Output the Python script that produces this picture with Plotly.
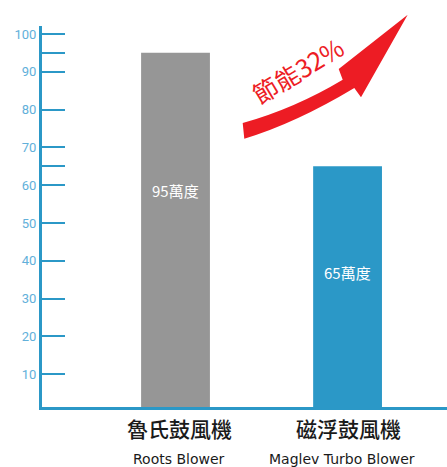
import plotly.graph_objects as go

categories_zh = ["魯氏鼓風機", "磁浮鼓風機"]
categories_en = ["Roots Blower", "Maglev Turbo Blower"]
values = [95, 65]
value_labels = ["95萬度", "65萬度"]
bar_colors = ["#969696", "#2b98c7"]
tick_vals = [10, 20, 30, 40, 50, 60, 65, 70, 80, 90, 95, 100]
tick_text = ["10", "20", "30", "40", "50", "60", "", "70", "80", "90", "", "100"]
saving_label = "節能32%"

W, H = 447, 467
ML, MR, MT, MB = 42, 0, 26, 60
PW, PH = W - ML - MR, H - MT - MB

def px2paper(px, py):
    return (px - ML) / PW, (H - MB - py) / PH

AXIS = "#2b98c7"
TICKFONT = "#62b0da"
RED = "#ed1c24"

fig = go.Figure()
fig.add_trace(go.Bar(
    x=[0, 1], y=values, marker=dict(color=bar_colors, line=dict(width=0)),
    width=0.40, hoverinfo="skip",
))

annotations = []
label_y = [58.7, 36.8]
for i, (lab, ly) in enumerate(zip(value_labels, label_y)):
    annotations.append(dict(x=i, y=ly, xref="x", yref="y", text=lab, showarrow=False,
                            xanchor="center", yanchor="middle",
                            font=dict(color="white", size=15, family="Noto Sans CJK TC")))

zh_shift = [4, 1]
en_shift = [3, -6]
for i in range(2):
    annotations.append(dict(x=i, y=px2paper(0, 428)[1], xref="x", yref="paper",
                            text=categories_zh[i], showarrow=False, xshift=zh_shift[i],
                            xanchor="center", yanchor="middle",
                            font=dict(color="#1a1a1a", size=21, family="Noto Sans CJK TC",
                                      weight=500)))
    annotations.append(dict(x=i, y=px2paper(0, 459)[1], xref="x", yref="paper",
                            text=categories_en[i], showarrow=False, xshift=en_shift[i],
                            xanchor="center", yanchor="middle",
                            font=dict(color="#1a1a1a", size=14, family="DejaVu Sans")))

tx, ty = px2paper(297, 70)
annotations.append(dict(x=tx, y=ty, xref="paper", yref="paper", text=saving_label,
                        showarrow=False, textangle=-31, xanchor="center", yanchor="middle",
                        font=dict(color=RED, size=25, family="Noto Sans CJK TC")))

def P(px, py):
    x, y = px2paper(px, py)
    return f"{x:.5f},{y:.5f}"

path = (
    "M" + P(242.7, 123) +
    " Q" + P(294.8, 108.4) + " " + P(342.7, 79.7) +
    " L" + P(338.7, 69) +
    " L" + P(407.7, 14.7) +
    " L" + P(361, 97.3) +
    " L" + P(354.3, 88) +
    " Q" + P(295.3, 123.4) + " " + P(244.3, 138.7) +
    " Z"
)
shapes = [dict(type="path", xref="paper", yref="paper", path=path,
               fillcolor=RED, line=dict(width=0))]

fig.update_layout(
    width=W, height=H,
    margin=dict(l=ML, r=MR, t=MT, b=MB, pad=0),
    paper_bgcolor="white", plot_bgcolor="white",
    showlegend=False,
    annotations=annotations, shapes=shapes,
    xaxis=dict(range=[-0.776, 1.578], showticklabels=False, ticks="",
               showgrid=False, zeroline=False, showline=True,
               linecolor=AXIS, linewidth=3),
    yaxis=dict(range=[1.35, 102.1], tickvals=tick_vals, ticktext=tick_text,
               ticks="inside", ticklen=23, tickwidth=1.5, tickcolor=AXIS,
               showgrid=False, zeroline=False, showline=True,
               linecolor=AXIS, linewidth=3,
               tickfont=dict(color=TICKFONT, size=13, family="Roboto")),
)

fig.write_html("out.html", config={"displayModeBar": False},
               post_script="document.body.style.margin='0';document.body.style.padding='0';")
